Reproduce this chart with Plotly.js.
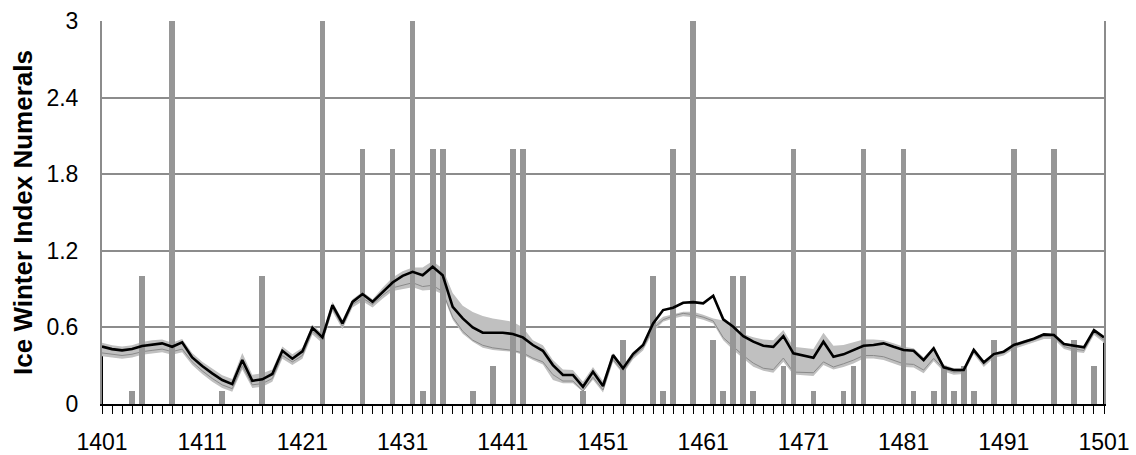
<!DOCTYPE html>
<html>
<head>
<meta charset="utf-8">
<script src="https://cdn.plot.ly/plotly-3.0.1.min.js"></script>
<style>
  html, body { margin: 0; padding: 0; background: #ffffff; }
  #chart { width: 1136px; height: 455px; }
</style>
</head>
<body>
<div id="chart"></div>
<script>
// ---- Data ----
const firstYear = 1401;
const lastYear = 1501;

// Black line: ice winter index (smoothed), one value per year 1401..1501
const meanIndex = [
  0.45, 0.43, 0.42, 0.43, 0.455, 0.467, 0.475, 0.448, 0.483, 0.365,
  0.297, 0.24, 0.188, 0.156, 0.344, 0.182, 0.193, 0.235, 0.417, 0.355,
  0.412, 0.597, 0.522, 0.775, 0.631, 0.80, 0.861, 0.80, 0.879, 0.952,
  1.004, 1.035, 1.009, 1.075, 1.009, 0.761, 0.67, 0.60, 0.558, 0.558,
  0.558, 0.548, 0.522, 0.462, 0.417, 0.305, 0.227, 0.227, 0.135, 0.253,
  0.141, 0.383, 0.279, 0.391, 0.462, 0.631, 0.736, 0.754, 0.793, 0.798,
  0.788, 0.848, 0.663, 0.605, 0.532, 0.488, 0.456, 0.448, 0.532, 0.397,
  0.378, 0.362, 0.488, 0.37, 0.389, 0.423, 0.456, 0.462, 0.475, 0.448,
  0.423, 0.417, 0.344, 0.436, 0.287, 0.266, 0.266, 0.423, 0.326, 0.391,
  0.41, 0.462, 0.488, 0.511, 0.545, 0.54, 0.47, 0.456, 0.444, 0.579,
  0.522
];

// Thin grey line (alternative estimate)
const altIndex = [
  0.40, 0.39, 0.38, 0.39, 0.41, 0.42, 0.43, 0.41, 0.43, 0.33,
  0.26, 0.20, 0.15, 0.12, 0.30, 0.15, 0.16, 0.20, 0.38, 0.33,
  0.38, 0.57, 0.50, 0.75, 0.61, 0.78, 0.83, 0.78, 0.85, 0.91,
  0.93, 0.95, 0.92, 0.93, 0.88, 0.68, 0.57, 0.50, 0.46, 0.44,
  0.43, 0.42, 0.40, 0.36, 0.33, 0.23, 0.18, 0.18, 0.10, 0.21,
  0.11, 0.35, 0.25, 0.37, 0.44, 0.59, 0.66, 0.69, 0.71, 0.70,
  0.68, 0.65, 0.52, 0.45, 0.38, 0.32, 0.28, 0.27, 0.36, 0.25,
  0.245, 0.245, 0.33, 0.29, 0.315, 0.344, 0.38, 0.38, 0.37, 0.344,
  0.315, 0.31, 0.266, 0.357, 0.275, 0.25, 0.255, 0.41, 0.31, 0.38,
  0.40, 0.45, 0.475, 0.50, 0.53, 0.53, 0.45, 0.43, 0.42, 0.56,
  0.50
];

// Grey band: upper and lower bounds
const bandUpper = [
  0.48, 0.46, 0.45, 0.46, 0.485, 0.50, 0.505, 0.48, 0.51, 0.40,
  0.33, 0.275, 0.225, 0.195, 0.40, 0.23, 0.24, 0.27, 0.45, 0.39,
  0.44, 0.62, 0.55, 0.80, 0.66, 0.82, 0.88, 0.82, 0.91, 0.99,
  1.04, 1.07, 1.07, 1.12, 1.06, 0.87, 0.77, 0.72, 0.69, 0.67,
  0.66, 0.645, 0.60, 0.50, 0.46, 0.344, 0.27, 0.266, 0.175, 0.29,
  0.18, 0.40, 0.30, 0.41, 0.47, 0.62, 0.683, 0.704, 0.722, 0.722,
  0.70, 0.67, 0.655, 0.605, 0.548, 0.522, 0.506, 0.50, 0.579, 0.448,
  0.437, 0.43, 0.558, 0.456, 0.462, 0.483, 0.506, 0.506, 0.50, 0.475,
  0.448, 0.437, 0.367, 0.448, 0.31, 0.28, 0.28, 0.44, 0.34, 0.40,
  0.42, 0.47, 0.50, 0.52, 0.555, 0.55, 0.48, 0.465, 0.455, 0.59,
  0.53
];
const bandLower = [
  0.375, 0.365, 0.355, 0.365, 0.385, 0.395, 0.405, 0.385, 0.405, 0.305,
  0.235, 0.175, 0.125, 0.095, 0.27, 0.125, 0.135, 0.175, 0.355, 0.305,
  0.355, 0.545, 0.475, 0.725, 0.585, 0.755, 0.805, 0.755, 0.825, 0.885,
  0.90, 0.915, 0.89, 0.895, 0.86, 0.66, 0.55, 0.487, 0.44, 0.423,
  0.415, 0.41, 0.385, 0.344, 0.31, 0.188, 0.162, 0.162, 0.096, 0.19,
  0.09, 0.33, 0.235, 0.35, 0.42, 0.566, 0.645, 0.67, 0.687, 0.68,
  0.66, 0.63, 0.50, 0.423, 0.357, 0.292, 0.26, 0.245, 0.33, 0.232,
  0.225, 0.22, 0.305, 0.27, 0.29, 0.318, 0.357, 0.357, 0.345, 0.318,
  0.29, 0.285, 0.24, 0.335, 0.255, 0.23, 0.235, 0.39, 0.29, 0.36,
  0.38, 0.43, 0.455, 0.48, 0.51, 0.51, 0.43, 0.41, 0.40, 0.54,
  0.48
];

// Grey bars: individual ice winter index numerals
const barYears = [
  1404, 1405, 1408, 1413, 1417, 1423, 1427, 1430, 1432, 1433,
  1434, 1435, 1438, 1440, 1442, 1443, 1449, 1453, 1456, 1457,
  1458, 1460, 1462, 1463, 1464, 1465, 1466, 1469, 1470, 1472,
  1475, 1476, 1477, 1481, 1482, 1484, 1485, 1486, 1487, 1488,
  1490, 1492, 1496, 1498, 1500
];
const barValues = [
  0.1, 1, 3, 0.1, 1, 3, 2, 2, 3, 0.1,
  2, 2, 0.1, 0.3, 2, 2, 0.1, 0.5, 1, 0.1,
  2, 3, 0.5, 0.1, 1, 1, 0.1, 0.3, 2, 0.1,
  0.1, 0.3, 2, 2, 0.1, 0.1, 0.3, 0.1, 0.3, 0.1,
  0.5, 2, 2, 0.5, 0.3
];

const yTickVals = [0, 0.6, 1.2, 1.8, 2.4, 3];
const yTickText = ['0', '0.6', '1.2', '1.8', '2.4', '3'];
const xTickVals = [1401, 1411, 1421, 1431, 1441, 1451, 1461, 1471, 1481, 1491, 1501];
const xTickText = ['1401', '1411', '1421', '1431', '1441', '1451', '1461', '1471', '1481', '1491', '1501'];

// ---- Build ----
const years = [];
for (let y = firstYear; y <= lastYear; y++) years.push(y);
const nLast = years.length - 1;

const FONT = 'Liberation Sans, Arial, sans-serif';

const traces = [
  { type: 'scatter', mode: 'lines', x: years, y: bandLower,
    line: { width: 0, color: '#c0c0c0' }, hoverinfo: 'skip', showlegend: false,
    xaxis: 'x', yaxis: 'y' },
  { type: 'scatter', mode: 'lines', x: years, y: bandUpper,
    fill: 'tonexty', fillcolor: '#c0c0c0',
    line: { width: 0, color: '#c0c0c0' }, hoverinfo: 'skip', showlegend: false,
    xaxis: 'x', yaxis: 'y' },
  { type: 'scatter', mode: 'lines', x: years, y: altIndex,
    line: { width: 1, color: '#8a8a8a' }, showlegend: false,
    xaxis: 'x', yaxis: 'y' },
  { type: 'scatter', mode: 'lines',
    x: [years[0], years[0], null, years[nLast], years[nLast]],
    y: [0, bandLower[0], null, 0, bandLower[nLast]],
    line: { width: 2, color: '#000000' }, showlegend: false, hoverinfo: 'skip',
    cliponaxis: false, xaxis: 'x', yaxis: 'y' },
  { type: 'bar', x: barYears, y: barValues, width: 0.57,
    marker: { color: '#969696', line: { width: 0 } }, showlegend: false,
    xaxis: 'x', yaxis: 'y2' },
  { type: 'scatter', mode: 'lines', x: years, y: meanIndex,
    line: { width: 2.6, color: '#000000' }, showlegend: false,
    xaxis: 'x', yaxis: 'y2' }
];

const layout = {
  width: 1136, height: 455,
  margin: { l: 102, r: 32, t: 21, b: 51 },
  paper_bgcolor: '#ffffff', plot_bgcolor: '#ffffff',
  font: { family: FONT, size: 23, color: '#000000' },
  showlegend: false,
  bargap: 0,
  xaxis: {
    range: [firstYear, lastYear],
    tickvals: xTickVals, ticktext: xTickText,
    ticks: 'outside', ticklen: 8, tickwidth: 1, tickcolor: '#000000',
    minor: { tickmode: 'linear', tick0: firstYear, dtick: 1, ticks: 'outside',
             ticklen: 8, tickwidth: 1, tickcolor: '#000000', showgrid: false },
    showline: true, linecolor: '#000000', linewidth: 2, mirror: false,
    showgrid: false, zeroline: false,
    ticklabelstandoff: 8,
    tickfont: { family: FONT, size: 23, color: '#000000' },
    fixedrange: true
  },
  yaxis: {
    range: [0, 3],
    tickvals: yTickVals, ticktext: yTickText,
    ticks: 'outside', ticklen: 17, tickcolor: 'rgba(0,0,0,0)',
    showgrid: true, gridcolor: '#8c8c8c', gridwidth: 2,
    showline: true, linecolor: '#8c8c8c', linewidth: 2, mirror: true,
    zeroline: false,
    tickfont: { family: FONT, size: 23, color: '#000000' },
    title: { text: 'Ice Winter Index Numerals', standoff: 6,
             font: { family: FONT, size: 26, color: '#000000', weight: 'bold' } },
    fixedrange: true
  },
  yaxis2: {
    range: [0, 3], overlaying: 'y', visible: false, fixedrange: true
  }
};

Plotly.newPlot('chart', traces, layout, { displayModeBar: false, staticPlot: true });
</script>
</body>
</html>
